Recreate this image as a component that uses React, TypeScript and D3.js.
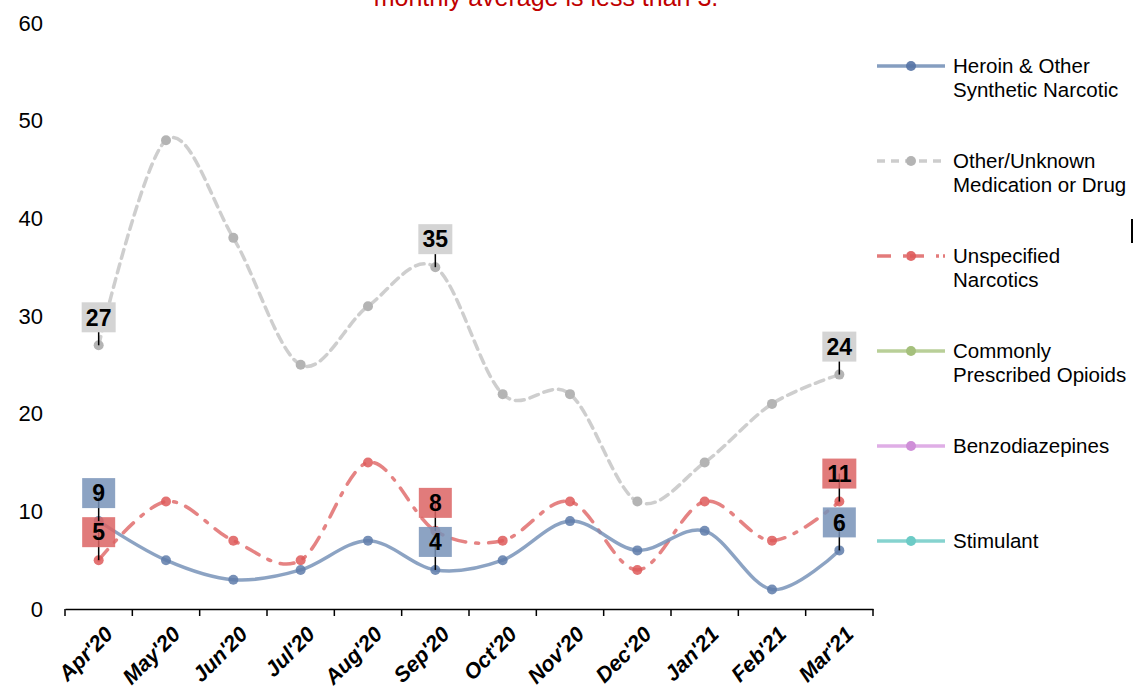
import React, { useEffect, useRef } from 'react';
import * as d3 from 'd3';

const months = ["Apr'20", "May'20", "Jun'20", "Jul'20", "Aug'20", "Sep'20", "Oct'20", "Nov'20", "Dec'20", "Jan'21", "Feb'21", "Mar'21"];
const heroin = [9, 5, 3, 4, 7, 4, 5, 9, 6, 8, 2, 6];
const otherUnknown = [27, 48, 38, 25, 31, 35, 22, 22, 11, 15, 21, 24];
const unspecified = [5, 11, 7, 5, 15, 8, 7, 11, 4, 11, 7, 11];
const labelIdx = [0, 5, 11];
const yTicks = [0, 10, 20, 30, 40, 50, 60];
const legendNames = [
  ['Heroin & Other', 'Synthetic Narcotic'],
  ['Other/Unknown', 'Medication or Drug'],
  ['Unspecified', 'Narcotics'],
  ['Commonly', 'Prescribed Opioids'],
  ['Benzodiazepines'],
  ['Stimulant'],
];

const App = () => {
  const ref = useRef<SVGSVGElement>(null);

  useEffect(() => {
    const svg = d3.select(ref.current);
    svg.selectAll('*').remove();
    const font = 'Liberation Sans, Arial, sans-serif';

    const x = d3.scaleBand().domain(months).range([65, 873]);
    const y = d3.scaleLinear().domain([0, 60]).range([609, 23]);
    const cx = (i: number) => (x(months[i]) as number) + x.bandwidth() / 2;

    // title fragment (clipped at top, as in the source)
    svg.append('text').attr('x', 546).attr('y', 6).attr('text-anchor', 'middle')
      .attr('font-family', font).attr('font-size', 25).attr('fill', '#C00000')
      .text('monthly average is less than 3.');

    // y tick labels
    svg.append('g').selectAll('text').data(yTicks).enter().append('text')
      .attr('x', 43).attr('y', d => y(d)).attr('dy', '0.35em').attr('text-anchor', 'end')
      .attr('font-family', font).attr('font-size', 22).attr('fill', '#000')
      .text(d => d);

    // x axis
    const xAxis = d3.axisBottom(x).tickSize(0).tickFormat(() => '');
    const gx = svg.append('g').attr('transform', 'translate(0,609)').call(xAxis);
    gx.select('path').attr('stroke', '#000').attr('stroke-width', 1.5);
    const edges = months.map(m => x(m) as number).concat([873]);
    gx.selectAll('line.edge').data(edges).enter().append('line').attr('class', 'edge')
      .attr('x1', d => d).attr('x2', d => d).attr('y1', 0).attr('y2', 7)
      .attr('stroke', '#000').attr('stroke-width', 1.5);
    svg.append('g').selectAll('text').data(months).enter().append('text')
      .attr('transform', (d, i) => `translate(${cx(i) + 5},${625}) rotate(-45)`)
      .attr('text-anchor', 'end').attr('dy', '0.7em')
      .attr('font-family', font).attr('font-size', 21.5).attr('font-weight', 'bold').attr('font-style', 'italic')
      .text(d => d);

    const series = [
      { values: otherUnknown, line: 'rgba(190,190,190,0.75)', dot: '#b4b4b4', dash: '9,6', box: '#d4d4d4' },
      { values: unspecified, line: 'rgba(222,100,100,0.8)', dot: 'rgba(222,90,90,0.85)', dash: '14,10,3,10', box: 'rgba(220,100,100,0.85)' },
      { values: heroin, line: 'rgba(120,147,185,0.85)', dot: 'rgba(95,125,170,0.85)', dash: null, box: 'rgba(120,147,185,0.85)' },
    ];

    const line = d3.line<number>().x((d, i) => cx(i)).y(d => y(d)).curve(d3.curveCardinal.tension(0));

    series.forEach(s => {
      svg.append('path').datum(s.values).attr('d', line).attr('fill', 'none')
        .attr('stroke', s.line).attr('stroke-width', 3.5).attr('stroke-dasharray', s.dash)
        .attr('stroke-linecap', 'round');
      svg.append('g').selectAll('circle').data(s.values).enter().append('circle')
        .attr('cx', (d, i) => cx(i)).attr('cy', d => y(d)).attr('r', 5).attr('fill', s.dot);
    });

    // data labels
    series.forEach(s => {
      const g = svg.append('g');
      labelIdx.forEach(i => {
        const px = cx(i), py = y(s.values[i]);
        const by = py - 28;
        const w = s.values[i] >= 10 ? 34 : 33;
        g.append('line').attr('x1', px).attr('x2', px).attr('y1', by).attr('y2', py)
          .attr('stroke', '#000').attr('stroke-width', 1.5);
        g.append('rect').attr('x', px - w / 2).attr('y', by - 15).attr('width', w).attr('height', 30)
          .attr('fill', s.box);
        g.append('text').attr('x', px).attr('y', by).attr('dy', '0.36em').attr('text-anchor', 'middle')
          .attr('font-family', font).attr('font-size', 23).attr('font-weight', 'bold').attr('fill', '#000')
          .text(s.values[i]);
      });
    });

    // legend
    const legendStyles = [
      { line: 'rgba(120,147,185,0.9)', dot: 'rgba(85,115,165,0.9)', dash: null },
      { line: 'rgba(200,200,200,0.9)', dot: '#b4b4b4', dash: '8,6' },
      { line: 'rgba(222,100,100,0.85)', dot: 'rgba(222,90,90,0.9)', dash: '14,12,3,4' },
      { line: '#b9cf98', dot: '#a5c07c', dash: null },
      { line: '#dfaee6', dot: '#cf8fd8', dash: null },
      { line: '#86d3cf', dot: '#6ccbc6', dash: null },
    ];
    legendNames.forEach((names, k) => {
      const ly = 66 + k * 95;
      const st = legendStyles[k];
      svg.append('line').attr('x1', 877).attr('x2', 945).attr('y1', ly).attr('y2', ly)
        .attr('stroke', st.line).attr('stroke-width', 3.5).attr('stroke-dasharray', st.dash);
      svg.append('circle').attr('cx', 911).attr('cy', ly).attr('r', 5).attr('fill', st.dot);
      names.forEach((n, j) => {
        svg.append('text').attr('x', 953).attr('y', ly + j * 24).attr('dy', '0.35em')
          .attr('font-family', font).attr('font-size', 20.5).attr('fill', '#000').text(n);
      });
    });

    svg.append('line').attr('x1', 1132).attr('x2', 1132).attr('y1', 219).attr('y2', 243)
      .attr('stroke', '#000').attr('stroke-width', 2);
  }, []);

  return (
    <svg ref={ref} width={1134} height={691} style={{ position: 'absolute', left: 0, top: 0, background: '#fff' }} />
  );
};

export default App;
